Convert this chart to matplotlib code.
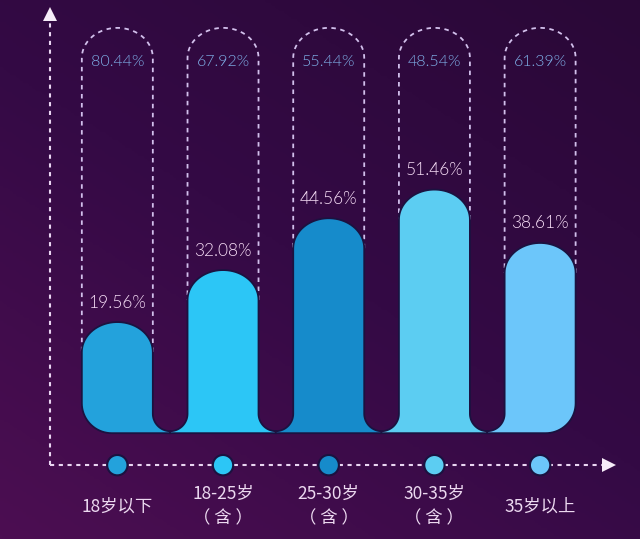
import numpy as np
import matplotlib
matplotlib.use("Agg")
import matplotlib.pyplot as plt
from matplotlib.patches import Polygon
from matplotlib.colors import LinearSegmentedColormap

# ---------------- data ----------------
categories = ["18岁以下", "18-25岁\n（ 含 ）", "25-30岁\n（ 含 ）", "30-35岁\n（ 含 ）", "35岁以上"]
values = [19.56, 32.08, 44.56, 51.46, 38.61]          # filled part (%)
remainders = [80.44, 67.92, 55.44, 48.54, 61.39]      # empty part (%)
bar_colors = ["#23a2dc", "#2cc6f6", "#168bcb", "#5ccdf2", "#6cc6fa"]

# ---------------- layout / style ----------------
W, H, DPI = 640, 539, 100
BG_BL = "#4c0e52"
BG_TR = "#2a0837"
DASH_COLOR = "#d2c0ec"
AXIS_COLOR = "#ead6f2"
TOP_LABEL_COLOR = "#7fb0e8"
VAL_LABEL_COLOR = "#f5dcf5"
CAT_LABEL_COLOR = "#ecd9f0"
OUTLINE = "#1b1240"
NUM_FONT = ["Lato", "DejaVu Sans"]

BASE = -7.2        # bottom of the bar band (data units)
DASH_TOP = 90.4    # top of dashed capsule outlines (data units)
XAXIS_Y = -14.9
YAXIS_X = -0.637

fig = plt.figure(figsize=(W / DPI, H / DPI), dpi=DPI)
ax = fig.add_axes([0, 0, 1, 1])
ax.set_xlim(-1.110, 4.945)
ax.set_ylim(-32.68, 97.11)
ax.axis("off")

# pixel scale factors derived from the axes
sx = W / (ax.get_xlim()[1] - ax.get_xlim()[0])
sy = H / (ax.get_ylim()[1] - ax.get_ylim()[0])

# background gradient
yy, xx = np.mgrid[0:1:200j, 0:1:200j]
grad = (xx * 0.6 + yy * 0.8) / 1.4
cmap = LinearSegmentedColormap.from_list("bg", [BG_BL, "#340a45", BG_TR])
ax.imshow(grad, extent=[*ax.get_xlim(), *ax.get_ylim()], origin="lower",
          cmap=cmap, aspect="auto", zorder=0)

hw, ry, g, rc, band = 35.5, 30.0, 17.5, 30.0, 2.0
n = len(values)
xs = np.arange(n)


def pt(c, dxp, y, dyp):
    return (c + dxp / sx, y + dyp / sy)


for i, (v, col) in enumerate(zip(values, bar_colors)):
    c = xs[i]
    pts = []
    # rounded top cap (right -> left)
    for th in np.linspace(0, np.pi, 40):
        pts.append(pt(c, hw * np.cos(th), v, -ry + ry * np.sin(th)))
    # left side
    if i == 0:
        for th in np.linspace(np.pi, 1.5 * np.pi, 20):
            pts.append(pt(c, -hw + rc + rc * np.cos(th), BASE, rc + rc * np.sin(th)))
    else:
        for th in np.linspace(0, -0.5 * np.pi, 20):
            pts.append(pt(c, -hw - g + g * np.cos(th), BASE, band + g + g * np.sin(th)))
        pts.append(pt(c, -hw - g, BASE, 0))
    # right side
    if i == n - 1:
        for th in np.linspace(-0.5 * np.pi, 0, 20):
            pts.append(pt(c, hw - rc + rc * np.cos(th), BASE, rc + rc * np.sin(th)))
    else:
        pts.append(pt(c, hw + g, BASE, 0))
        for th in np.linspace(-0.5 * np.pi, -np.pi, 20):
            pts.append(pt(c, hw + g + g * np.cos(th), BASE, band + g + g * np.sin(th)))
    ax.add_patch(Polygon(pts, closed=True, facecolor=col, edgecolor=OUTLINE,
                         linewidth=1.3, zorder=3))

    # dashed capsule outline
    dpts = [pt(c, hw, v, -ry)]
    for th in np.linspace(0, np.pi, 40):
        dpts.append(pt(c, hw * np.cos(th), DASH_TOP, -ry + ry * np.sin(th)))
    dpts.append(pt(c, -hw, v, -ry))
    dpts = np.array(dpts)
    ax.plot(dpts[:, 0], dpts[:, 1], color=DASH_COLOR, lw=1.3,
            dashes=(2.5, 2.5), zorder=2)

    # labels
    ax.text(c, DASH_TOP - 34 / sy, f"{remainders[i]:.2f}%", ha="center", va="center",
            color=TOP_LABEL_COLOR, fontsize=11.5, family=NUM_FONT,
            fontweight=300, zorder=4)
    ax.annotate(f"{v:.2f}%", (c, v), xytext=(0, 14), textcoords="offset points",
                ha="center", va="center", color=VAL_LABEL_COLOR, fontsize=12.5,
                family=NUM_FONT, fontweight=300, zorder=4)

# axes lines with arrows
x_end = ax.get_xlim()[1] - 25 / sx
y_end = ax.get_ylim()[1] - 8 / sy
ax.plot([YAXIS_X, YAXIS_X], [XAXIS_Y, y_end - 8 / sy], color=AXIS_COLOR, lw=1.5,
        dashes=(2, 2.2), zorder=2)
ax.plot([YAXIS_X, x_end - 8 / sx], [XAXIS_Y, XAXIS_Y], color=AXIS_COLOR, lw=1.5,
        dashes=(2, 2.2), zorder=2)
ax.plot([YAXIS_X], [y_end - 6 / sy], marker="^", markersize=10, color="#f6ecf8",
        markeredgewidth=0, zorder=5)
ax.plot([x_end - 6 / sx], [XAXIS_Y], marker=">", markersize=10, color="#f6ecf8",
        markeredgewidth=0, zorder=5)

# dots on x axis
ax.scatter(xs, [XAXIS_Y] * n, s=215, c=bar_colors, edgecolors=OUTLINE,
           linewidths=1.5, zorder=5)

# category labels
for i, lab in enumerate(categories):
    ax.text(xs[i], XAXIS_Y - 41 / sy, lab, ha="center", va="center",
            color=CAT_LABEL_COLOR, fontsize=12.5, linespacing=1.5,
            family=["Noto Sans CJK SC", "DejaVu Sans"], zorder=4)

fig.savefig("out.png", dpi=DPI)
